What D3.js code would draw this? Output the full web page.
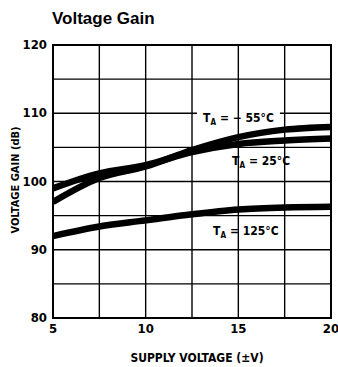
<!DOCTYPE html>
<html><head><meta charset="utf-8">
<script src="https://cdn.jsdelivr.net/npm/d3@7"></script>
<style>body{margin:0;background:#fff}svg{display:block}</style>
</head><body>
<script>
const supply = [5, 7.5, 10, 12.5, 15, 17.5, 20];
const gainM55 = [97.0, 100.5, 102.2, 104.6, 106.5, 107.6, 108.0];
const gain25 = [99.0, 101.2, 102.4, 104.3, 105.5, 106.0, 106.3];
const gain125 = [92.0, 93.4, 94.3, 95.2, 95.9, 96.2, 96.3];
const xTicks = [5, 10, 15, 20];
const yTicks = [80, 90, 100, 110, 120];
const xGrid = [7.5, 10, 12.5, 15, 17.5];
const yGrid = [85, 90, 95, 100, 105, 110, 115];
const labels = [
  {t: "= \u2212 55\u00B0C", x: 203, y: 122},
  {t: "= 25\u00B0C", x: 232, y: 165},
  {t: "= 125\u00B0C", x: 213, y: 235}
];

const W = 338, H = 367;
const svg = d3.select("body").append("svg").attr("width", W).attr("height", H);
const x = d3.scaleLinear().domain([5, 20]).range([53, 331]);
const y = d3.scaleLinear().domain([80, 120]).range([318, 45]);
const cond = "'DejaVu Sans Condensed', 'DejaVu Sans', sans-serif";

svg.append("text").attr("x", 52).attr("y", 24)
  .attr("font-family", "'Liberation Sans', Arial, sans-serif").attr("font-weight", "bold")
  .attr("font-size", 17).text("Voltage Gain");

const gH = svg.append("g");
const gBg = svg.append("g");
const gV = svg.append("g");
const gC = svg.append("g");
const gT = svg.append("g");

// horizontal grid
gH.selectAll("line").data(yGrid).join("line")
  .attr("x1", x(5)).attr("x2", x(20)).attr("y1", d => y(d)).attr("y2", d => y(d))
  .attr("stroke", "#000").attr("stroke-width", 1.4);

// labels
labels.forEach(l => {
  const txt = gT.append("text").attr("x", l.x).attr("y", l.y)
    .attr("font-family", cond).attr("font-weight", "bold").attr("font-size", 12).attr("fill", "#000");
  txt.append("tspan").text("T");
  txt.append("tspan").attr("font-size", 8).attr("dy", 3).text("A");
  txt.append("tspan").attr("dy", -3).attr("dx", 4).text(l.t);
  const w = txt.node().getComputedTextLength() + 4;
  gBg.append("rect").attr("x", l.x - 6).attr("y", l.y - 14).attr("width", w + 12)
    .attr("height", 19).attr("fill", "#fff");
});

// vertical grid
gV.selectAll("line").data(xGrid).join("line")
  .attr("y1", y(80)).attr("y2", y(120)).attr("x1", d => x(d)).attr("x2", d => x(d))
  .attr("stroke", "#000").attr("stroke-width", 1.4);

// frame
gV.append("rect").attr("x", x(5)).attr("y", y(120)).attr("width", x(20) - x(5)).attr("height", y(80) - y(120))
  .attr("fill", "none").attr("stroke", "#000").attr("stroke-width", 2);

// curves
svg.append("clipPath").attr("id", "c").append("rect")
  .attr("x", x(5)).attr("y", y(120)).attr("width", x(20) - x(5)).attr("height", y(80) - y(120));
const line = d3.line().x((d, i) => x(supply[i])).y(d => y(d)).curve(d3.curveMonotoneX);
gC.attr("clip-path", "url(#c)").selectAll("path").data([gainM55, gain25, gain125]).join("path")
  .attr("d", line).attr("fill", "none").attr("stroke", "#000").attr("stroke-width", 6.5);

// tick labels
svg.append("g").selectAll("text").data(yTicks).join("text")
  .attr("x", 47).attr("y", d => y(d) + 4).attr("text-anchor", "end")
  .attr("font-family", cond).attr("font-weight", "bold").attr("font-size", 13).text(d => d);
svg.append("g").selectAll("text").data(xTicks).join("text")
  .attr("x", d => x(d)).attr("y", 333).attr("text-anchor", "middle")
  .attr("font-family", cond).attr("font-weight", "bold").attr("font-size", 13).text(d => d);

svg.append("text").attr("x", 197).attr("y", 362).attr("text-anchor", "middle")
  .attr("font-family", cond).attr("font-weight", "bold").attr("font-size", 12).text("SUPPLY VOLTAGE (\u00B1V)");
svg.append("text").attr("transform", "translate(19,180) rotate(-90)").attr("text-anchor", "middle")
  .attr("font-family", cond).attr("font-weight", "bold").attr("font-size", 11).text("VOLTAGE GAIN (dB)");
</script>
</body></html>
